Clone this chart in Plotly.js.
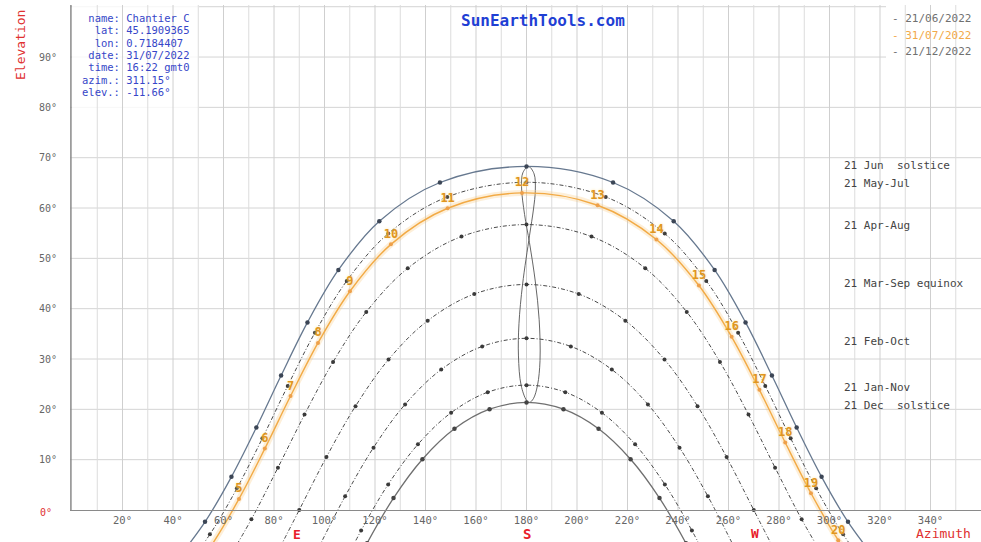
<!DOCTYPE html>
<html>
<head>
<meta charset="utf-8">
<script src="https://cdn.plot.ly/plotly-3.0.1.min.js"></script>
<style>html,body{margin:0;padding:0;background:#fff}#chart{width:981px;height:542px}</style>
</head>
<body>
<div id="chart"></div>
<script>
// ---- data (azimuth °, elevation °) ----
const junAz = [41.22,52.68,63.14,73.01,82.81,93.25,105.50,121.70,145.72,180,214.28,238.30,254.50,266.75,277.19,286.99,296.86,307.32,318.78];
const junEl = [-10.08,-2.36,6.59,16.39,26.72,37.27,47.69,57.38,65.07,68.26,65.07,57.38,47.69,37.27,26.72,16.39,6.59,-2.36,-10.08];

const mayAz = [42.85,54.61,65.30,75.39,85.44,96.19,108.81,125.27,148.63,180,211.37,234.73,251.19,263.81,274.56,284.61,294.70,305.39,317.15];
const mayEl = [-12.79,-4.84,4.30,14.25,24.66,35.21,45.52,54.93,62.20,65.12,62.20,54.93,45.52,35.21,24.66,14.25,4.30,-4.84,-12.79];

const aprAz = [59.84,71.03,81.55,92.08,103.39,116.53,132.97,154.26,180,205.74,227.03,243.47,256.61,267.92,278.45,288.97,300.16];
const aprEl = [-11.45,-1.85,8.41,18.95,29.41,39.34,48.03,54.33,56.71,54.33,48.03,39.34,29.41,18.95,8.41,-1.85,-11.45];

const marAz = [79.24,90,100.76,112.27,125.35,140.86,159.31,180,200.69,219.14,234.65,247.73,259.24,270,280.76];
const marEl = [-10.51,0,10.51,20.63,29.89,37.61,42.91,44.81,42.91,37.61,29.89,20.63,10.51,0,-10.51];

const febAz = [97.59,108.16,119.40,131.91,146.22,162.45,180,197.55,213.78,228.09,240.60,251.84,262.41];
const febEl = [-7.57,2.72,12.39,20.98,27.91,32.50,34.11,32.50,27.91,20.98,12.39,2.72,-7.57];

const janAz = [104.39,114.50,125.21,137.00,150.14,164.63,180,195.37,209.86,223.00,234.79,245.50,255.61];
const janEl = [-14.04,-4.08,5.08,13.04,19.33,23.40,24.81,23.40,19.33,13.04,5.08,-4.08,-14.04];

const decAz = [106.99,116.86,127.32,138.78,151.47,165.36,180,194.64,208.53,221.22,232.68,243.14,253.01];
const decEl = [-16.39,-6.59,2.36,10.08,16.13,20.02,21.38,20.02,16.13,10.08,2.36,-6.59,-16.39];

// 31/07/2022, hourly (gmt0)
const dayHours = ['3','4','5','6','7','8','9','10','11','12','13','14','15','16','17','18','19','20','21'];
const dayAz = [43.23,55.24,66.13,76.37,86.55,97.42,110.08,126.30,148.75,178.20,208.15,231.44,248.28,261.24,272.24,282.46,292.67,303.45,315.33];
const dayEl = [-15.02,-7.01,2.20,12.20,22.64,33.20,43.47,52.78,59.95,63.00,60.55,53.75,44.60,34.40,23.87,13.40,3.33,-6.00,-14.18];

// noon analemma
const anaAz = [180.0,177.85,176.81,177.01,178.44,181.22,182.77,183.49,182.99,180.79,178.56,178.03,179.23,181.18,183.51,185.01,185.35,184.37,182.71,181.17,180.0];
const anaEl = [21.8,24.81,30.61,37.0,44.81,54.61,59.81,63.51,66.81,68.25,67.01,64.21,58.71,53.11,45.31,37.81,29.71,24.81,22.11,21.37,21.8];

const azTicks = [20,40,60,80,100,120,140,160,180,200,220,240,260,280,300,320,340];
const elTicks = [10,20,30,40,50,60,70,80,90];

const curveNames = ['21 Jun\u00a0\u00a0solstice','21 May-Jul','21 Apr-Aug','21 Mar-Sep equinox','21 Feb-Oct','21 Jan-Nov','21 Dec\u00a0\u00a0solstice'];
const curveLabelY = [166,183,226,283,341,387,405];
const legendTexts = ['- 21/06/2022','- 31/07/2022','- 21/12/2022'];
const infoLabels = ['\u00a0name:','\u00a0\u00a0lat:','\u00a0\u00a0lon:','\u00a0date:','\u00a0time:','azim.:','elev.:'];
const infoValues = ['Chantier C','45.1909365','0.7184407','31/07/2022','16:22 gmt0','311.15°','-11.66°'];

// ---- layout helpers ----
const W = 981, H = 542, ML = 70, MT = 5;
const PW = W - ML, PH = H - MT;
const PX = x => (x - ML) / PW;
const PY = y => (H - y) / PH;
const MONO = 'DejaVu Sans Mono, Liberation Mono, monospace';
const YR = [-6.36, 100.34];

const dashStyle = '4px,2px,1px,2px';
function curve(az, el, opts) {
  return Object.assign({
    type: 'scatter', x: az, y: el, mode: 'lines+markers', hoverinfo: 'skip',
    line: {shape: 'spline', smoothing: 1, width: 1, color: '#4a4a4a', dash: dashStyle},
    marker: {size: 4, color: '#3a3a3a'}
  }, opts);
}

// hour labels only where the point lies inside the visible elevation range
const dayText = dayHours.map((h, i) => (dayEl[i] >= YR[0] ? h : ''));

const traces = [
  {type:'scatter', x: anaAz, y: anaEl, mode:'lines', hoverinfo:'skip',
   line:{shape:'spline', smoothing:1, width:0.9, color:'#555'}},
  curve(junAz, junEl, {line:{shape:'spline', smoothing:1, width:1.3, color:'#66788f'}, marker:{size:4.5, color:'#3c4656'}}),
  curve(mayAz, mayEl, {}),
  curve(aprAz, aprEl, {}),
  curve(marAz, marEl, {}),
  curve(febAz, febEl, {}),
  curve(janAz, janEl, {}),
  curve(decAz, decEl, {line:{shape:'spline', smoothing:1, width:1.3, color:'#6f6f6f'}, marker:{size:4.5, color:'#444'}}),
  {type:'scatter', x: dayAz, y: dayEl, mode:'lines', hoverinfo:'skip',
   line:{shape:'spline', smoothing:1, width:6, color:'rgba(248,196,120,0.28)'}},
  {type:'scatter', x: dayAz, y: dayEl, mode:'lines+markers+text', hoverinfo:'skip',
   text: dayText, textposition:'top center',
   textfont:{family: MONO, size: 12, color:'#e0961f', weight:'bold', shadow:'0px 0px 3px #ffe2a0'},
   line:{shape:'spline', smoothing:1, width:1.4, color:'#f2aa45'},
   marker:{size:4, color:'#eea04a'}}
];

const shapes = [];
for (let a = 10; a < 360; a += 10) {
  shapes.push({type:'line', xref:'x', yref:'y', x0:a, x1:a, y0:0, y1:YR[1], layer:'below',
               line:{color: (a % 20 === 0) ? '#cfcfcf' : '#dcdcdc', width:1}});
}
for (let e = 10; e <= 100; e += 10) {
  shapes.push({type:'line', xref:'paper', yref:'y', x0:0, x1:1, y0:e, y1:e, layer:'below',
               line:{color:'#d4d4d4', width:1}});
}
// info box and legend box backgrounds
shapes.push({type:'rect', xref:'paper', yref:'paper', x0:PX(72), x1:PX(199), y0:PY(112), y1:1, layer:'below',
             fillcolor:'rgba(255,255,255,0.8)', line:{width:0}});
shapes.push({type:'rect', xref:'paper', yref:'paper', x0:PX(886), x1:1, y0:PY(62), y1:1, layer:'below',
             fillcolor:'#ffffff', line:{width:0}});
// left (elevation) axis line
shapes.push({type:'line', xref:'paper', yref:'y', x0:0.001, x1:0.001, y0:0, y1:YR[1], layer:'below',
             line:{color:'#8a8a8a', width:1.5}});

const annotations = [];
function ann(text, x, y, o) {
  annotations.push(Object.assign({text, xref:'paper', yref:'paper', x:PX(x), y:PY(y),
    xanchor:'left', yanchor:'middle', showarrow:false, borderpad:0,
    font:{family: MONO, size:11, color:'#444'}}, o || {}));
}
// title
ann('SunEarthTools.com', 543, 20, {xanchor:'center', font:{family: MONO, size:16, color:'#1f3fd4', weight:'bold'}});
// info box
infoLabels.forEach((t, i) => {
  ann(t + ' ' + infoValues[i], 81, 18 + i * 12.3, {font:{family: MONO, size:10.5, color:'#3646c8'}});
});
// legend
const legColors = ['#707070', '#f2a94a', '#707070'];
legendTexts.forEach((t, i) => {
  ann(t, 891, 18 + i * 17, {font:{family: MONO, size:11, color: legColors[i]}});
});
// curve names
curveNames.forEach((t, i) => ann(t, 843, curveLabelY[i], {font:{family: MONO, size:11, color:'#444'}}));
// axis titles & cardinal points
ann('Elevation', 20, 45, {xanchor:'center', textangle:-90, font:{family: MONO, size:13, color:'#e03030'}});
ann('Azimuth', 943, 533, {xanchor:'center', font:{family: MONO, size:13, color:'#e03030'}});
ann('0°', 46, 512, {xanchor:'center', font:{family: MONO, size:10, color:'#e03030'}});
ann('E', 297, 534, {xanchor:'center', font:{family: MONO, size:13, color:'#e8202a', weight:'bold'}});
ann('S', 527, 534, {xanchor:'center', font:{family: MONO, size:14, color:'#e8202a', weight:'bold'}});
ann('W', 755, 533, {xanchor:'center', font:{family: MONO, size:13, color:'#e8202a', weight:'bold'}});

const layout = {
  width: W, height: H,
  margin: {l: ML, r: 0, t: MT, b: 0, pad: 0},
  paper_bgcolor: '#ffffff', plot_bgcolor: '#ffffff',
  showlegend: false,
  xaxis: {
    range: [-0.8, 360], anchor: 'free', position: (0 - YR[0]) / (YR[1] - YR[0]),
    showgrid: false, zeroline: false, showline: true, linecolor: '#8a8a8a', linewidth: 1.5,
    tickvals: azTicks, ticktext: azTicks.map(v => v + '°'), ticks: '', ticklabelstandoff: 0,
    tickfont: {family: MONO, size: 10.5, color: '#666'}, fixedrange: true
  },
  yaxis: {
    range: YR, showgrid: false, zeroline: false, showline: false,
    tickvals: elTicks, ticktext: elTicks.map(v => v + '°'), ticks: '', ticklabelstandoff: 12,
    tickfont: {family: MONO, size: 10, color: '#666'}, fixedrange: true
  },
  shapes, annotations
};

Plotly.newPlot('chart', traces, layout, {staticPlot: true, displayModeBar: false});
</script>
</body>
</html>
